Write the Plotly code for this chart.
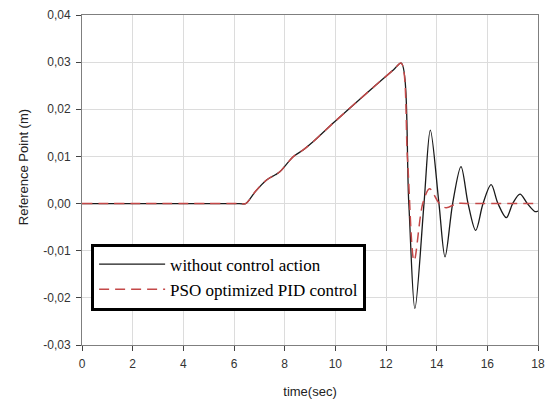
import plotly.graph_objects as go

# time (s) and response (m)
t_black = [0, 6.2, 6.46, 6.85, 7.30, 7.63, 7.82, 8.34, 8.73, 9.12, 9.96, 11.0, 11.58, 12.3, 12.6,
           12.9, 13.14, 13.50, 13.75, 14.09, 14.33, 14.63, 14.96, 15.24, 15.54, 15.83, 16.15,
           16.42, 16.75, 17.0, 17.29, 17.58, 17.88, 18.0]
y_black = [0, 0, 0, 0.0026, 0.00505, 0.0061, 0.0068, 0.00996, 0.01137, 0.0131, 0.0173, 0.0223,
           0.02505, 0.0284, 0.0298,
           0.0, -0.0223, 0.0, 0.0156, 0.0, -0.0113, 0.0, 0.00785, 0.0, -0.0057, 0.0, 0.0040,
           0.0, -0.0030, 0.0, 0.0020, 0.0, -0.0017, -0.0016]

t_red = [0, 6.2, 6.46, 6.85, 7.30, 7.63, 7.82, 8.34, 8.73, 9.12, 9.96, 11.0, 11.58, 12.3, 12.6,
         12.85, 13.11, 13.45, 13.72, 14.08, 14.37, 14.8, 15.4, 18.0]
y_red = [0, 0, 0, 0.0026, 0.00505, 0.0061, 0.0068, 0.00996, 0.01137, 0.0131, 0.0173, 0.0223,
         0.02505, 0.0284, 0.0298,
         0.0093, -0.01215, 0.0, 0.00315, 0.0002, -0.0009, 0.0, 0.0, 0.0]

x_ticks = [0, 2, 4, 6, 8, 10, 12, 14, 16, 18]
y_ticks = [-0.03, -0.02, -0.01, 0.0, 0.01, 0.02, 0.03, 0.04]
y_ticktext = ["-0,03", "-0,02", "-0,01", "0,00", "0,01", "0,02", "0,03", "0,04"]

fig = go.Figure()
fig.add_trace(go.Scatter(
    x=t_black, y=y_black, mode="lines", name="without control action",
    line=dict(color="#1a1a1a", width=1.3, shape="spline", smoothing=0.9)))
fig.add_trace(go.Scatter(
    x=t_red, y=y_red, mode="lines", name="PSO optimized PID control",
    line=dict(color="rgb(196,72,72)", width=1.5, dash="10px,6px", shape="spline", smoothing=0.9)))

axis_common = dict(
    showline=True, linecolor="#7f7f7f", linewidth=1, mirror=True,
    showgrid=True, gridcolor="#dcdcdc", gridwidth=1,
    ticks="outside", ticklen=5, tickcolor="#444", zeroline=False,
    ticklabelstandoff=3,
    tickfont=dict(family="Liberation Sans, Arial", size=12, color="#333"),
)

fig.update_xaxes(range=[0, 18], tickvals=x_ticks,
                 title=dict(text="time(sec)", font=dict(family="Liberation Sans, Arial", size=13, color="#222"), standoff=16),
                 **axis_common)
fig.update_yaxes(range=[-0.03, 0.04], tickvals=y_ticks, ticktext=y_ticktext,
                 **axis_common)

fig.add_annotation(text="Reference Point (m)", xref="paper", yref="paper",
                   x=-0.128, y=0.5376, xanchor="center", yanchor="middle",
                   textangle=-90, showarrow=False,
                   font=dict(family="Liberation Sans, Arial", size=13, color="#222"))

fig.update_layout(
    width=553, height=405,
    margin=dict(l=82, r=8, t=13, b=59),
    paper_bgcolor="white", plot_bgcolor="white",
    showlegend=True,
    legend=dict(x=0.02, y=0.3075, xanchor="left", yanchor="top",
                bgcolor="white", bordercolor="black", borderwidth=3,
                font=dict(family="Liberation Serif, Times New Roman", size=17, color="black"),
                itemwidth=66),
)

fig.write_html("out.html")
